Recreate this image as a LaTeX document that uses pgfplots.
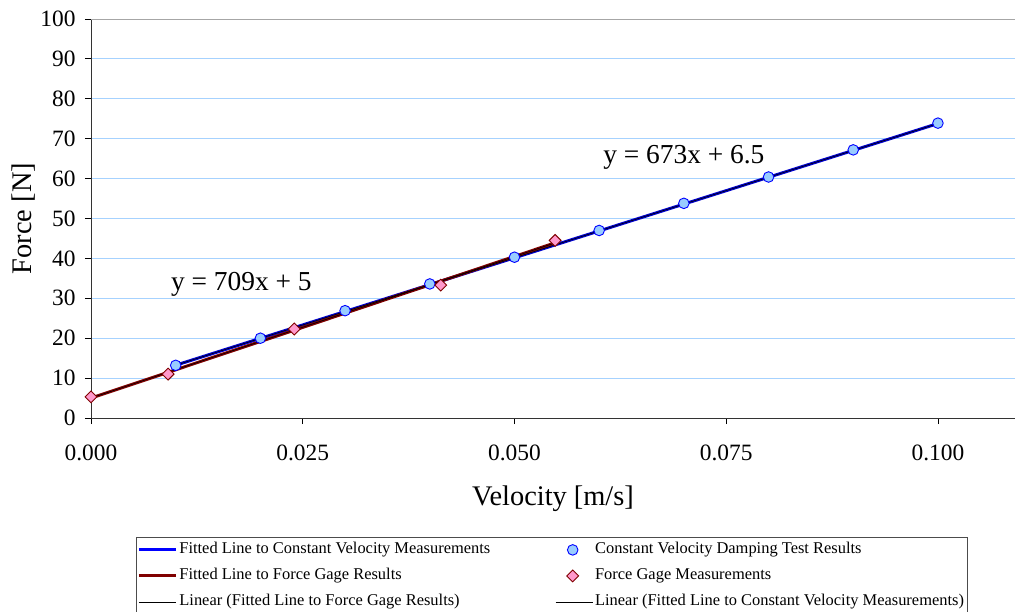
\documentclass[border=0pt]{standalone}
\usepackage{pgfplots}
\pgfplotsset{compat=1.18}
\usepackage{fontspec}
\setmainfont{Liberation Serif}
\definecolor{cvblue}{HTML}{0000FF}
\definecolor{cvfill}{HTML}{99CCFF}
\definecolor{fgred}{HTML}{800000}
\definecolor{fgfill}{HTML}{FF99CC}
\definecolor{gridblue}{HTML}{A6D2FF}
\pgfplotsset{
  longline/.style={legend image code/.code={\draw[##1] (0bp,0bp) -- (37bp,0bp);}},
  marklegend/.style={legend image code/.code={\draw[mark repeat=2,mark phase=2,##1] plot coordinates {(0bp,0bp) (17bp,0bp) (37bp,0bp)};}},
  cvmark/.style={mark=*, mark size=5.3bp, mark options={fill=cvfill, draw=blue, line width=0.9pt}},
  fgmark/.style={mark=square*, mark size=4.2bp, mark options={rotate=45, fill=fgfill, draw=fgred, line width=0.9pt}},
}
\begin{document}
\begin{tikzpicture}
\begin{axis}[
  at={(0,0)}, anchor=south west,
  scale only axis, width=924bp, height=399bp,
  xmin=0, xmax=0.1091, ymin=0, ymax=100,
  axis x line*=bottom, axis y line*=left,
  axis line style={line width=0.8pt, black!80},
  xtick={0,0.025,0.05,0.075,0.1},
  ytick={0,10,...,90},
  extra y ticks={100},
  extra y tick style={grid style={gray!70, line width=0.9pt}},
  tick align=outside, major tick length=6bp,
  tick style={black, line width=0.8pt},
  ymajorgrids, grid style={gridblue, line width=0.8pt},
  /pgf/number format/assume math mode=true,
  xticklabel style={/pgf/number format/fixed, /pgf/number format/fixed zerofill, /pgf/number format/precision=3, /pgf/number format/assume math mode=true, yshift=-17bp},
  yticklabel style={/pgf/number format/fixed, /pgf/number format/precision=0, /pgf/number format/assume math mode=true, xshift=-6bp},
  ticklabel style={font=\fontsize{23.5}{27}\selectfont},
  xlabel={Velocity [m/s]}, ylabel={Force [N]},
  every axis x label/.style={at={(axis description cs:0.5,0)}, anchor=center, yshift=-81bp, font=\fontsize{28.5}{33}\selectfont},
  every axis y label/.style={at={(axis description cs:0,0.5)}, rotate=90, anchor=center, yshift=67bp, font=\fontsize{28.5}{33}\selectfont},
  clip=false,
  legend columns=2,
  legend cell align=left,
  legend style={at={(axis description cs:0,0)}, anchor=north west, xshift=45bp, yshift=-119bp,
    font=\fontsize{16.5}{19}\selectfont, draw=black!70, line width=0.8pt,
    inner xsep=1bp, inner ysep=3.5bp, row sep=8bp,
    nodes={inner xsep=2bp, inner ysep=2bp, text height=11bp, text depth=3bp},
    /tikz/every even column/.append style={column sep=63bp}},
]
% legend entries
\addlegendimage{longline, cvblue, line width=3bp}
\addlegendentry{Fitted Line to Constant Velocity Measurements}
\addlegendimage{marklegend, only marks, cvmark}
\addlegendentry{Constant Velocity Damping Test Results}
\addlegendimage{longline, fgred, line width=3bp}
\addlegendentry{Fitted Line to Force Gage Results}
\addlegendimage{marklegend, only marks, fgmark}
\addlegendentry{Force Gage Measurements}
\addlegendimage{longline, black, line width=0.8pt}
\addlegendentry{Linear (Fitted Line to Force Gage Results)}
\addlegendimage{longline, black, line width=0.8pt}
\addlegendentry{Linear (Fitted Line to Constant Velocity Measurements)}

% fitted lines
\addplot[forget plot, cvblue!80!black, line width=3bp] coordinates {
 (0.01,13.23) (0.02,19.96) (0.03,26.69) (0.04,33.42) (0.05,40.15)
 (0.06,46.88) (0.07,53.61) (0.08,60.34) (0.09,67.07) (0.10,73.8)};
\addplot[forget plot, fgred, line width=3bp] coordinates {
 (0,5.0) (0.0091,11.45) (0.024,22.0) (0.0413,34.3) (0.0548,43.9)};
% trendlines
\addplot[forget plot, black, line width=0.6pt] coordinates {(0,5.0) (0.0548,43.9)};
\addplot[forget plot, black, line width=0.6pt] coordinates {(0.01,13.23) (0.10,73.8)};
% measurements
\addplot[forget plot, only marks, cvmark] coordinates {
 (0.01,13.2) (0.02,20.0) (0.03,26.9) (0.04,33.6) (0.05,40.3)
 (0.06,47.0) (0.07,53.8) (0.08,60.4) (0.09,67.2) (0.10,73.9)};
\addplot[forget plot, only marks, fgmark] coordinates {
 (0,5.3) (0.0091,11.0) (0.024,22.3) (0.0413,33.3) (0.0548,44.5)};

\node[font=\fontsize{27.5}{32}\selectfont] at (axis cs:0.0700,65.4) {y = 673x + 6.5};
\node[font=\fontsize{27.5}{32}\selectfont] at (axis cs:0.01775,33.5) {y = 709x + 5};
\end{axis}
\pgfresetboundingbox
\path (-91bp,-194bp) rectangle (924bp,418bp);
\end{tikzpicture}
\end{document}
